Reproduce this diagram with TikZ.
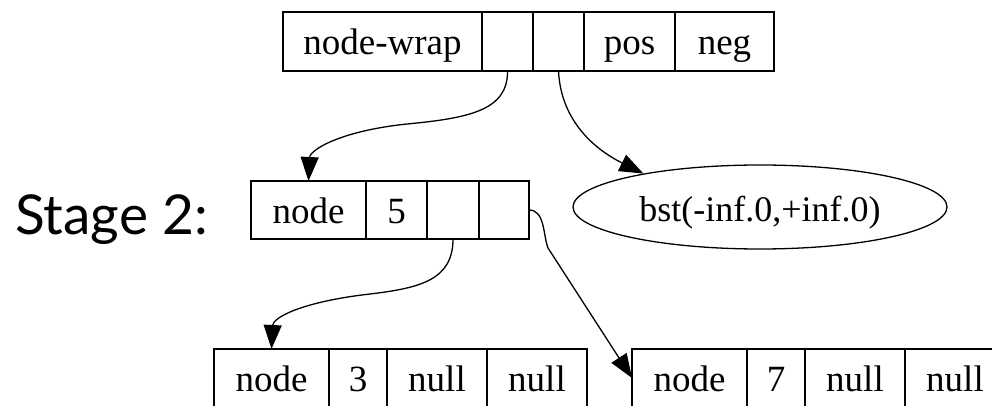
\documentclass[tikz,border=0pt]{standalone}
\usepackage{fontspec}
\usetikzlibrary{shapes.geometric,arrows.meta}
\newfontfamily\recfont{Liberation Serif}
\newfontfamily\stagefont{Lato}
\begin{document}
\begin{tikzpicture}[x=1pt,y=-1pt,
  cell/.style={draw, line width=1.3pt, inner sep=0pt, outer sep=0pt, anchor=center,
    text height=27pt, text depth=0pt,
    minimum height=58pt, font={\recfont\fontsize{37}{37}\selectfont}},
  link/.style={line width=1.3pt, -{Triangle[length=24pt,width=18pt]}},
  oval/.style={draw, ellipse, line width=1.3pt, inner sep=0pt, minimum width=374pt, minimum height=84pt,
    text height=28pt, text depth=0pt,
    font={\recfont\fontsize{36}{36}\selectfont}}
]
\useasboundingbox (0,0) rectangle (992,406);
\clip (0,0) rectangle (992,406);
% top record
\node[cell, minimum width=199pt, minimum height=59pt] (nw) at (382.5,41.5) {node-wrap};
\node[cell, minimum width=51pt, minimum height=59pt] (ta) at (507.5,41.5) {};
\node[cell, minimum width=51pt, minimum height=59pt] (tb) at (558.5,41.5) {};
\node[cell, minimum width=91pt, minimum height=59pt] (pos) at (629.5,41.5) {pos};
\node[cell, minimum width=99pt, minimum height=59pt] (neg) at (724.5,41.5) {neg};
% middle record
\node[cell, minimum width=115pt] (mnode) at (308.5,210) {node};
\node[cell, minimum width=61pt] (mval) at (396.5,210) {5};
\node[cell, minimum width=52pt] (ma) at (453,210) {};
\node[cell, minimum width=50pt] (mb) at (504,210) {};
% ellipse
\node[oval] (bst) at (760,207) {bst(-inf.0,+inf.0)};
% bottom left record
\node[cell, minimum width=115pt] (lnode) at (271.5,378) {node};
\node[cell, minimum width=58pt] (lval) at (358,378) {3};
\node[cell, minimum width=100pt] (lna) at (437,378) {null};
\node[cell, minimum width=100pt] (lnb) at (537,378) {null};
% bottom right record
\node[cell, minimum width=115pt] (rnode) at (689.5,378) {node};
\node[cell, minimum width=58pt] (rval) at (776,378) {7};
\node[cell, minimum width=100pt] (rna) at (855,378) {null};
\node[cell, minimum width=100pt] (rnb) at (955,378) {null};
% label
\node[anchor=base west, inner sep=0pt, font={\stagefont\fontsize{55}{55}\selectfont}] (stage) at (15,234) {Stage 2:};
% connectors
\draw[link] (ta.south) .. controls (508,110) and (470,118) .. (407,124)
  .. controls (340,131) and (310,150) .. (mnode.north);
\draw[link] (tb.south) .. controls (561,122) and (596,150) .. (bst.164);
\draw[link] (ma.south) .. controls (453,280) and (420,288) .. (370,294)
  .. controls (300,302) and (273,318) .. (lnode.north);
\draw[link] (mb.east) .. controls (545,210) and (543,235) .. (548,248) -- (rnode.west);
\end{tikzpicture}
\end{document}
